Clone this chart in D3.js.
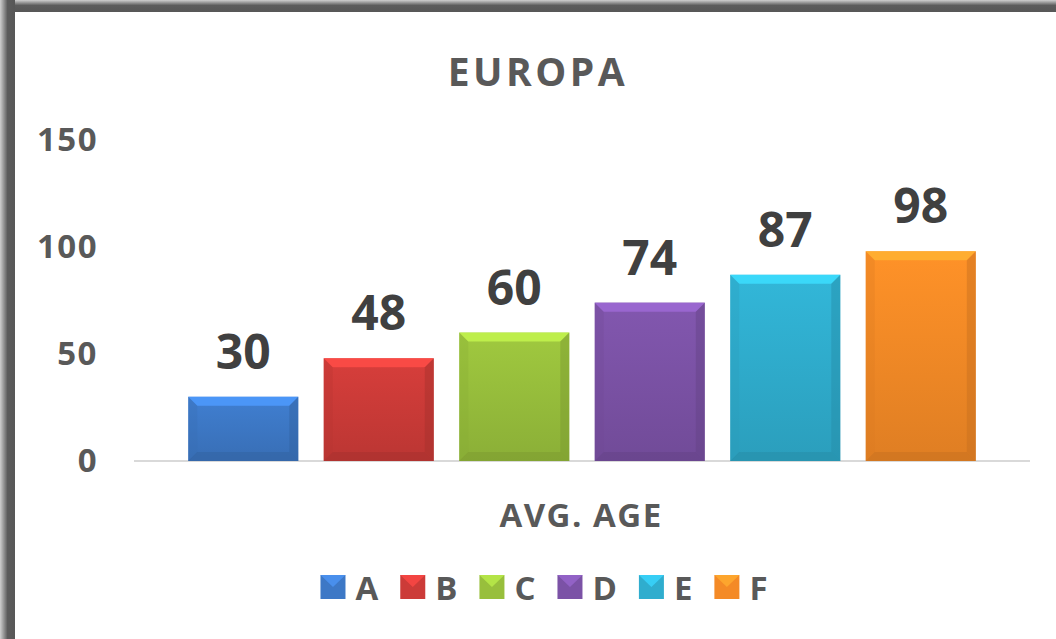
<!DOCTYPE html>
<html>
<head>
<meta charset="utf-8">
<script src="https://cdnjs.cloudflare.com/ajax/libs/d3/7.8.5/d3.min.js"></script>
<style>
  body { margin: 0; background: #fff; }
  text { font-family: "Open Sans", sans-serif; font-weight: bold; }
</style>
</head>
<body>
<script>
// datos del grafico
var series = ["A", "B", "C", "D", "E", "F"];
var valores = [30, 48, 60, 74, 87, 98];
var colores = ["#3d78c6", "#cc3b38", "#98bf3c", "#7b52a6", "#2fadce", "#f48a26"];
var ticksY = [0, 50, 100, 150];
var categoria = "AVG. AGE";
var titulo = "EUROPA";

var ancho = 1056, alto = 639;
var svg = d3.select("body").append("svg").attr("width", ancho).attr("height", alto);
var defs = svg.append("defs");

// marco gris arriba y a la izquierda
var gIzq = defs.append("linearGradient").attr("id", "marcoIzq").attr("x1", 0).attr("x2", 1).attr("y1", 0).attr("y2", 0);
gIzq.append("stop").attr("offset", "0%").attr("stop-color", "#d0d0d0");
gIzq.append("stop").attr("offset", "50%").attr("stop-color", "#5c5c5c");
gIzq.append("stop").attr("offset", "100%").attr("stop-color", "#575757");
var gSup = defs.append("linearGradient").attr("id", "marcoSup").attr("x1", 0).attr("x2", 0).attr("y1", 0).attr("y2", 1);
gSup.append("stop").attr("offset", "0%").attr("stop-color", "#d0d0d0");
gSup.append("stop").attr("offset", "45%").attr("stop-color", "#5c5c5c");
gSup.append("stop").attr("offset", "100%").attr("stop-color", "#575757");
svg.append("rect").attr("x", 0).attr("y", 0).attr("width", ancho).attr("height", 12).attr("fill", "url(#marcoSup)");
svg.append("rect").attr("x", 0).attr("y", 0).attr("width", 15).attr("height", alto).attr("fill", "url(#marcoIzq)");

var margen = { izq: 134, der: 1030, arriba: 140, abajo: 461 };

var x = d3.scaleBand().domain(series).range([margen.izq, margen.der]).paddingInner(0.1876).paddingOuter(0.4);
var y = d3.scaleLinear().domain([0, 150]).range([margen.abajo, margen.arriba]);

// titulo
svg.append("text").attr("x", 538).attr("y", 70).attr("text-anchor", "middle").attr("dominant-baseline", "central")
    .attr("font-size", 39).attr("letter-spacing", 3.5).attr("fill", "#595959").text(titulo);

// eje y (solo etiquetas)
var ejeY = svg.append("g").attr("transform", "translate(98,0)")
    .call(d3.axisLeft(y).tickValues(ticksY).tickSize(0).tickPadding(0));
ejeY.select(".domain").remove();
ejeY.selectAll("text").attr("font-size", 33).attr("letter-spacing", 1.5).attr("fill", "#595959").attr("font-family", null);

// linea base
svg.append("line").attr("x1", margen.izq).attr("x2", margen.der).attr("y1", y(0)).attr("y2", y(0))
    .attr("stroke", "#d9d9d9").attr("stroke-width", 2);

// gradientes de las barras
series.forEach(function (s, i) {
    var c = d3.color(colores[i]);
    var g = defs.append("linearGradient").attr("id", "grad" + s).attr("x1", 0).attr("x2", 0).attr("y1", 0).attr("y2", 1);
    g.append("stop").attr("offset", "0%").attr("stop-color", c.brighter(0.15));
    g.append("stop").attr("offset", "100%").attr("stop-color", c.darker(0.25));
});

var bisel = 9;
var barras = svg.append("g").selectAll("g").data(series).join("g");
barras.each(function (s, i) {
    var g = d3.select(this);
    var x0 = x(s), x1 = x(s) + x.bandwidth(), y0 = y(valores[i]), y1 = y(0);
    var c = d3.color(colores[i]);
    g.append("rect").attr("x", x0).attr("y", y0).attr("width", x.bandwidth()).attr("height", y1 - y0)
        .attr("fill", "url(#grad" + s + ")");
    // bisel superior claro
    g.append("path").attr("d", `M${x0},${y0}L${x1},${y0}L${x1 - bisel},${y0 + bisel}L${x0 + bisel},${y0 + bisel}Z`)
        .attr("fill", c.brighter(0.7)).attr("opacity", 0.85);
    // laterales y base oscuros
    g.append("path").attr("d", `M${x1},${y0}L${x1},${y1}L${x1 - bisel},${y1 - bisel}L${x1 - bisel},${y0 + bisel}Z`)
        .attr("fill", c.darker(0.6)).attr("opacity", 0.45);
    g.append("path").attr("d", `M${x0},${y0}L${x0},${y1}L${x0 + bisel},${y1 - bisel}L${x0 + bisel},${y0 + bisel}Z`)
        .attr("fill", c.darker(0.3)).attr("opacity", 0.3);
    g.append("path").attr("d", `M${x0},${y1}L${x1},${y1}L${x1 - bisel},${y1 - bisel}L${x0 + bisel},${y1 - bisel}Z`)
        .attr("fill", c.darker(0.6)).attr("opacity", 0.5);
});

// etiquetas de valor
svg.append("g").selectAll("text").data(series).join("text")
    .attr("x", function (s) { return x(s) + x.bandwidth() / 2; })
    .attr("y", function (s, i) { return y(valores[i]) - 28; })
    .attr("text-anchor", "middle").attr("font-size", 48).attr("fill", "#404040")
    .text(function (s, i) { return valores[i]; });

// titulo de categoria
svg.append("text").attr("x", 581).attr("y", 514).attr("text-anchor", "middle").attr("dominant-baseline", "central")
    .attr("font-size", 33).attr("letter-spacing", 1.5).attr("fill", "#595959").text(categoria);

// leyenda
var leyenda = svg.append("g");
var posX = 0;
series.forEach(function (s, i) {
    var c = d3.color(colores[i]);
    var item = leyenda.append("g").attr("transform", `translate(${posX},0)`);
    item.append("rect").attr("x", 0).attr("y", -12).attr("width", 25).attr("height", 24).attr("fill", c);
    item.append("path").attr("d", "M0,-12L25,-12L12.5,0Z").attr("fill", c.brighter(0.6)).attr("opacity", 0.8);
    var t = item.append("text").attr("x", 35).attr("y", 0).attr("dominant-baseline", "central")
        .attr("font-size", 33).attr("fill", "#595959").text(s);
    posX += 35 + t.node().getComputedTextLength() + 22;
});
var anchoLeyenda = posX - 22;
leyenda.attr("transform", `translate(${544 - anchoLeyenda / 2},587)`);
</script>
</body>
</html>
